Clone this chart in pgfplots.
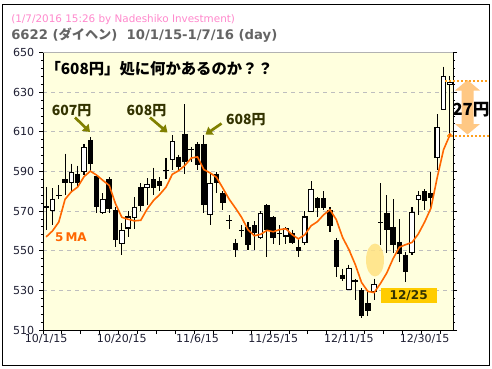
\documentclass[border=0pt]{standalone}
\usepackage{pgfplots}
\pgfplotsset{compat=1.18}
\usepackage{pgfplotstable}
\usetikzlibrary{arrows.meta}
\usepackage{fontspec}
\setmainfont{DejaVu Sans}
\newfontfamily\cjk{Noto Sans CJK JP}
\definecolor{plotbg}{RGB}{255,255,222}
\definecolor{gridc}{RGB}{190,190,190}
\definecolor{maorange}{RGB}{255,102,0}
\definecolor{olivearr}{RGB}{128,128,0}
\definecolor{olivetxt}{RGB}{51,51,0}
\definecolor{titlepink}{RGB}{255,136,204}
\definecolor{titlegray}{RGB}{100,100,100}
\definecolor{tickcol}{RGB}{30,30,50}
\definecolor{goldbox}{RGB}{255,204,0}
\definecolor{blob}{RGB}{255,226,130}
\definecolor{arrorange}{RGB}{255,190,110}
\definecolor{dotorange}{RGB}{255,160,30}
\begin{document}
\pgfplotstableread{
i O H L C
1 570.5 581.5 563 576
4 584.5 594 580 589.5
6 590 604 588 602
9 569.5 579 568.5 576
12 553.5 564 548 560
13 561.5 570 557 567
14 567 577 561 572
16 582 586.5 573 583.5
20 596 608.4 591 605
26 568.5 589 563 584
34 556.5 570 556 569
38 557.5 562 553.5 561
41 554 570 553 567
42 570 585 569.5 581
48 530.5 543 530 541
52 529.5 536 525 533
58 549 572 548 569.5
59 576 580 568 578
62 597 619 591 612
63 621.5 643 621 638
64 634 638 608.5 635
}\upc
\pgfplotstableread{
i O H L C
0 572.5 582 560.5 571.5
2 578 583 576 577.5
3 586 599 578 584
5 589 593 582 584
7 606 607.5 590.5 594
8 587.5 588 569 572
10 586 587 569 571
11 570.5 572 552 555.5
15 582 584 570 572.5
17 586 592 578 581.5
18 585 587 580 582.5
19 591 597 586 590.5
21 597.5 598.5 590.5 592.5
22 609 624 589 595
23 601.5 602.5 595 601
24 604 605 591 593.5
25 604 608.4 569 573
27 589 590 579 584
28 579 580 570.5 574
29 565.5 568 561 565
30 554 556 547 550.5
31 560.5 563 557 560
32 562 564.5 550.5 553
33 563 565 550.5 559
35 573 573.5 547 560.5
36 567 567.5 553.5 556.5
37 559 563 553 558.5
39 559 560.5 553.5 554
40 552 556 547 550
43 576.5 577 567 571.5
44 576.5 580 570.5 571.5
45 570.5 572 559.5 562.5
46 555.5 556.5 537 542
47 538 541 534.5 536
49 535 535.5 525 534
50 530 531 516 517
51 523.5 530 517 519.5
53 564.5 584 553 564
54 569 578 549 560.5
55 562 576 549 553
56 554.5 566 544.5 548.5
57 548 549.5 534 539.5
60 580 581 570.5 575
61 579 590 570.5 576.5
}\downc
\begin{tikzpicture}
\path[use as bounding box] (0pt,0pt) rectangle (369pt,-276pt);
\begin{axis}[
  at={(32.25pt,-247.5pt)}, anchor=south west,
  scale only axis, width=307.5pt, height=208pt,
  xmin=-0.5, xmax=64.5, ymin=510, ymax=650,
  axis background/.style={fill=plotbg},
  axis line style={black, line width=0.75pt},
  tick align=outside,
  xtick={-0.5,2.5,...,63.5}, xticklabels={},
  xtick pos=left,
  extra x ticks={0,12,24,36,48,60},
  extra x tick labels={10/1/15,10/20/15,11/6/15,11/25/15,12/11/15,12/30/15},
  extra x tick style={major tick length=0pt},
  ytick={510,530,...,650},
  minor y tick num=4,
  ytick pos=both, yticklabel pos=left,
  major tick length=3pt, minor tick length=1.6pt,
  every tick/.style={black, line width=0.75pt},
  ymajorgrids, major grid style={dash pattern=on 3pt off 3pt, gridc, line width=0.75pt},
  ticklabel style={font=\fontsize{8.3}{10}\selectfont, text=tickcol},
  /pgf/number format/assume math mode=true,
]
% wicks
\addplot[draw=none, mark=none, forget plot,
  error bars/.cd, y dir=minus, y explicit, error mark=none,
  error bar style={draw=black, line width=0.8pt}]
  table[x=i, y=H, y error expr=\thisrow{H}-\thisrow{L}] \downc;
\addplot[draw=none, mark=none, forget plot,
  error bars/.cd, y dir=minus, y explicit, error mark=none,
  error bar style={draw=black, line width=0.8pt}]
  table[x=i, y=H, y error expr=\thisrow{H}-\thisrow{L}] \upc;
% black bodies
\addplot[draw=none, mark=none, forget plot,
  error bars/.cd, y dir=minus, y explicit, error mark=none,
  error bar style={draw=black, line width=4.1pt}]
  table[x=i, y=O, y error expr=\thisrow{O}-\thisrow{C}] \downc;
% white bodies: outline then fill
\addplot[draw=none, mark=none, forget plot,
  error bars/.cd, y dir=minus, y explicit, error mark=none,
  error bar style={draw=black, line width=4.1pt}]
  table[x=i, y expr=\thisrow{C}+0.3, y error expr=\thisrow{C}-\thisrow{O}+0.6] \upc;
\addplot[draw=none, mark=none, forget plot,
  error bars/.cd, y dir=minus, y explicit, error mark=none,
  error bar style={draw=white, line width=2.5pt}]
  table[x=i, y expr=\thisrow{C}-0.25, y error expr=\thisrow{C}-\thisrow{O}-0.5] \upc;
% 5MA
\addplot[maorange, line width=1.2pt, mark=none] coordinates {
(0,557) (1,560) (2,564.5) (3,576) (4,579.8) (5,582.2) (6,587.4) (7,590.2) (8,588.2) (9,585.5)
(10,583) (11,573.7) (12,566.9) (13,565.9) (14,565.1) (15,565.4) (16,571) (17,575.3) (18,578.4) (19,582.1)
(20,588.6) (21,590.4) (22,593.1) (23,596.8) (24,597.4) (25,591) (26,589.3) (27,587.1) (28,581.7) (29,576.1)
(30,571.6) (31,566.8) (32,560.6) (33,557.6) (34,558.3) (35,560.3) (36,559.6) (37,560.7) (38,561.1) (39,558.1)
(40,556) (41,558.1) (42,562.6) (43,564.7) (44,568.2) (45,570.7) (46,565.7) (47,556.7) (48,550.6) (49,543.1)
(50,534) (51,529.5) (52,528.9) (53,533.5) (54,538.8) (55,546) (56,551.8) (57,553.1) (58,554.2) (59,558.5)
(60,564.5) (61,571.5) (62,587) (63,601) (64,608.4)
};
\addplot[only marks, mark=*, mark size=1.3pt, maorange] coordinates {(64,608.4)};
\end{axis}
\begin{scope}[x=0.75pt, y=-0.75pt]
% top border of plot in gray
\draw[gray!60, line width=0.75pt] (43,52.7) -- (453,52.7);
% outer frame
\draw[black, line width=0.75pt] (2.5,4.5) rectangle (489.5,365.5);
% titles
\node[anchor=west, inner sep=0, text=titlepink, font=\fontsize{7.8}{9}\selectfont] at (11,20) {(1/7/2016 15:26 by Nadeshiko Investment)};
\node[anchor=west, inner sep=0, text=titlegray, font=\fontsize{9.9}{11}\selectfont\bfseries] at (11,35.5) {6622 ({\cjk\bfseries ダイヘン})\ \ 10/1/15-1/7/16 (day)};
% headline
\node[anchor=west, inner sep=0, font=\fontsize{11.5}{13}\selectfont\cjk\bfseries] at (45.3,68.5) {「608円」処に何かあるのか？？};
% labels and arrows
\node[inner sep=0, text=olivetxt, font=\fontsize{10.5}{12}\selectfont\cjk\bfseries] at (71.7,111) {607円};
\node[inner sep=0, text=olivetxt, font=\fontsize{10.5}{12}\selectfont\cjk\bfseries] at (146.5,111) {608円};
\node[inner sep=0, text=olivetxt, font=\fontsize{10.5}{12}\selectfont\cjk\bfseries] at (245.8,120) {608円};
\draw[olivearr, line width=2pt, -{Triangle[width=7pt,length=5pt]}] (75,117.5) -- (90,132);
\draw[olivearr, line width=2pt, -{Triangle[width=7pt,length=5pt]}] (150,117.5) -- (167.5,132.5);
\draw[olivearr, line width=2pt, -{Triangle[width=7pt,length=5pt]}] (221.5,123.5) -- (205.5,134.5);
% 5MA label
\node[inner sep=0, text=maorange, font=\fontsize{9}{11}\selectfont\bfseries] at (71,237) {5\hspace{1.5pt}MA};
% blob
\fill[blob, opacity=0.85] (375,260) ellipse [x radius=9, y radius=16.5];
% 12/25 box
\fill[goldbox] (380.7,287.7) rectangle (436.7,302.7);
\node[inner sep=0, text=olivetxt, font=\fontsize{9.1}{11}\selectfont\bfseries] at (408.7,295.2) {12/25};
% 27 yen
\draw[dotorange, line width=1.5pt, dash pattern=on 1.5pt off 1.5pt] (445,80.5) -- (489,80.5);
\draw[dotorange, line width=1.5pt, dash pattern=on 1.5pt off 1.5pt] (447,135.5) -- (489,135.5);
\fill[arrorange, opacity=0.85] (467.5,80) -- (480,90.5) -- (473.5,90.5) -- (473.5,124) -- (480,124) -- (467.5,134.5) -- (455,124) -- (461.5,124) -- (461.5,90.5) -- (455,90.5) -- cycle;
\node[inner sep=0, font=\fontsize{12.5}{14}\selectfont\cjk\bfseries] at (471,110) {27円};
\end{scope}
\end{tikzpicture}
\end{document}
